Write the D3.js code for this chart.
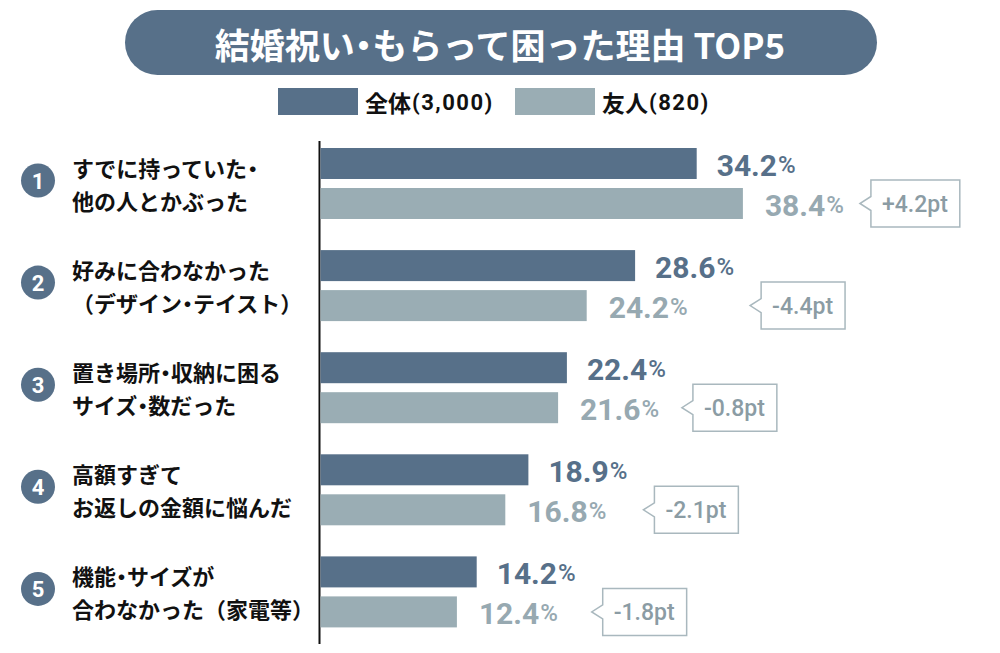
<!DOCTYPE html>
<html>
<head>
<meta charset="utf-8">
<script src="https://cdn.jsdelivr.net/npm/d3@7"></script>
<style>
  html, body { margin: 0; padding: 0; background: #fff; }
  svg { display: block; }
  .jp { font-family: "Noto Sans CJK JP", "Noto Sans", sans-serif; font-weight: 700; }
  .num { font-family: Roboto, "Noto Sans", sans-serif; font-weight: 700; }
  .half { font-feature-settings: "halt" 1; }
</style>
</head>
<body>
<svg id="viz-svg" width="1000" height="653"></svg>
<script>
// data
var titleText = "結婚祝い・もらって困った理由 TOP5"
var ranks = [1, 2, 3, 4, 5]
var labelLines = [
  ["すでに持っていた・", "他の人とかぶった"],
  ["好みに合わなかった", "（デザイン・テイスト）"],
  ["置き場所・収納に困る", "サイズ・数だった"],
  ["高額すぎて", "お返しの金額に悩んだ"],
  ["機能・サイズが", "合わなかった（家電等）"]
]
var seriesNames = ["全体", "友人"]
var seriesCounts = ["(3,000)", "(820)"]
var allValues = [34.2, 28.6, 22.4, 18.9, 14.2]
var friendValues = [38.4, 24.2, 21.6, 16.8, 12.4]

var dark = "#577089"
  , light = "#9aadb4"
  , lightText = "#97a9b1"
  , boxStroke = "#a9b8be"
  , boxText = "#8b9ca4"

var svg = d3.select("#viz-svg")

var rows = ranks.map(function(r, i){
  return { rank: r, lines: labelLines[i], vals: [allValues[i], friendValues[i]] }
})

// writes a string into a text node, the middle dot set half width
function jpText(sel, str){
  var parts = str.split("・")
  parts.forEach(function(p, i){
    if (i > 0) sel.append("tspan").attr("class", "half").text("・")
    if (p.length) sel.append("tspan").text(p)
  })
}

// scales
var x = d3.scaleLinear().domain([0, 40]).range([320.5, 760.5])
var y0 = d3.scaleBand().domain(ranks).range([148, 627.4]).paddingInner(0.3046).paddingOuter(0)
var y1 = d3.scaleBand().domain(seriesNames).range([0, y0.bandwidth()]).paddingInner(0.225)
var colors = d3.scaleOrdinal().domain(seriesNames).range([dark, light])

// title pill
var title = svg.append("g").attr("id", "title")
title.append("rect")
  .attr("x", 125).attr("y", 10).attr("width", 752).attr("height", 65)
  .attr("rx", 32.5).attr("fill", dark)
var tt = title.append("text")
  .attr("class", "jp")
  .attr("x", 500).attr("y", 43)
  .attr("text-anchor", "middle").attr("dominant-baseline", "central")
  .attr("fill", "#fff").style("font-size", "35px")
jpText(tt, titleText)

// legend
var legend = svg.append("g").attr("id", "legend")
var legendX = [278, 515]
seriesNames.forEach(function(s, i){
  legend.append("rect")
    .attr("x", legendX[i]).attr("y", 88).attr("width", 80).attr("height", 27)
    .attr("fill", colors(s))
  var t = legend.append("text")
    .attr("x", legendX[i] + 87).attr("y", 102)
    .attr("dominant-baseline", "central").attr("fill", "#111")
  t.append("tspan").attr("class", "jp").style("font-size", "23px").text(s)
  t.append("tspan").attr("class", "num").attr("dx", 1)
    .style("font-size", "22px").style("letter-spacing", "1.5px").text(seriesCounts[i])
})

// axis line (no ticks)
svg.append("line")
  .attr("x1", x(0) - 1).attr("x2", x(0) - 1)
  .attr("y1", 141).attr("y2", 644)
  .attr("stroke", "#111").attr("stroke-width", 2)

var groups = svg.append("g").attr("id", "bars")
  .selectAll(".grp")
  .data(rows)
  .enter().append("g")
    .attr("class", "grp")
    .attr("transform", function(d){ return "translate(0," + y0(d.rank) + ")" })

// rank circles
groups.append("circle")
  .attr("cx", 38).attr("cy", y0.bandwidth()/2 - 3).attr("r", 17)
  .attr("fill", dark)
groups.append("text")
  .attr("class", "num")
  .attr("x", 38).attr("y", y0.bandwidth()/2 - 2)
  .attr("text-anchor", "middle").attr("dominant-baseline", "central")
  .attr("fill", "#fff").style("font-size", "22px")
  .text(function(d){ return d.rank })

// category labels
groups.each(function(d){
  var g = d3.select(this)
  d.lines.forEach(function(line, li){
    var t = g.append("text")
      .attr("class", "jp")
      .attr("x", 72)
      .attr("y", y0.bandwidth()/2 + (li === 0 ? -16.5 : 16.5))
      .attr("dominant-baseline", "central")
      .attr("fill", "#111").style("font-size", "22px")
    jpText(t, line)
  })
})

// bars
groups.selectAll(".bar")
  .data(function(d){ return d.vals.map(function(v, i){ return { s: seriesNames[i], v: v } }) })
  .enter().append("rect")
    .attr("class", "bar")
    .attr("x", x(0))
    .attr("y", function(d){ return y1(d.s) })
    .attr("width", function(d){ return x(d.v) - x(0) })
    .attr("height", y1.bandwidth())
    .attr("fill", function(d){ return colors(d.s) })

// value labels
groups.each(function(d){
  var g = d3.select(this)
  var ends = []
  d.vals.forEach(function(v, i){
    var s = seriesNames[i]
    var t = g.append("text")
      .attr("class", "num")
      .attr("x", x(v) + (i === 0 ? 20 : 22))
      .attr("y", y1(s) + y1.bandwidth()/2 + 1)
      .attr("dominant-baseline", "central")
      .attr("fill", i === 0 ? dark : lightText)
    t.append("tspan").style("font-size", "30px").text(v.toFixed(1))
    t.append("tspan").attr("dx", 1).style("font-size", "24px").style("font-weight", 500).text("%")
    ends.push(t.node().getBBox().x + t.node().getBBox().width)
  })

  // difference callout
  var diff = d.vals[1] - d.vals[0]
  var diffText = (diff > 0 ? "+" : "-") + Math.abs(diff).toFixed(1) + "pt"
  var cy = y1(seriesNames[1]) + y1.bandwidth()/2
  var tip = d3.max(ends) + 16
  var left = tip + 11
  var txt = g.append("text")
    .attr("class", "num")
    .attr("x", left + 11).attr("y", cy + 1)
    .attr("dominant-baseline", "central")
    .attr("fill", boxText)
    .style("font-size", "23px").style("font-weight", 500)
    .text(diffText)
  var w = txt.node().getComputedTextLength() + 23
  var top = cy - 23.5, bottom = cy + 23.5
  g.insert("path", "text")
    .attr("d", "M" + left + "," + top + "H" + (left + w) + "V" + bottom + "H" + left +
      "V" + (cy + 7) + "L" + tip + "," + cy + "L" + left + "," + (cy - 7) + "Z")
    .attr("fill", "#fff").attr("stroke", boxStroke).attr("stroke-width", 1.5)
})
</script>
</body>
</html>
